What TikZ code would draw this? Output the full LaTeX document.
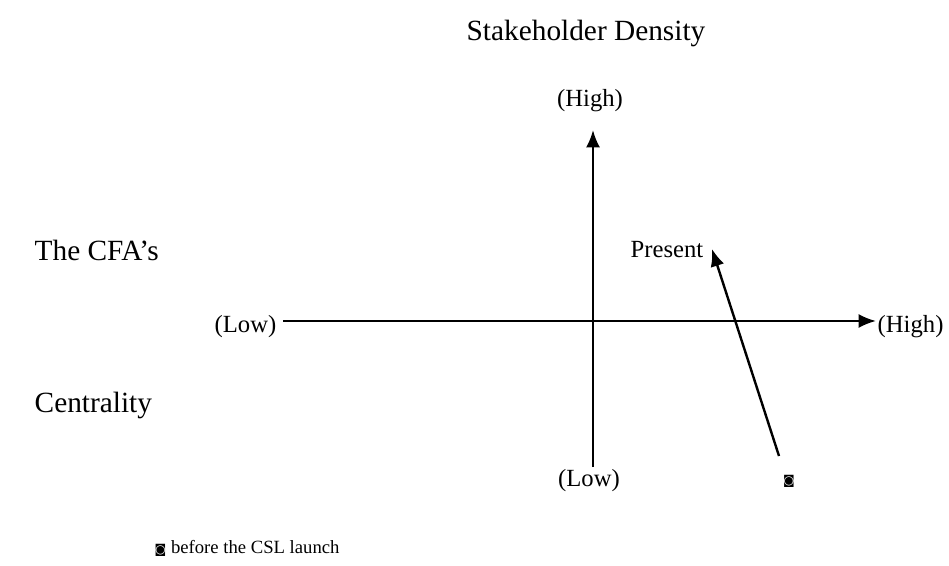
\documentclass[tikz,border=0pt]{standalone}
\usepackage{fontspec}
\setmainfont{Liberation Serif}
\newfontfamily\symfont{DejaVu Sans}
\usetikzlibrary{arrows.meta}
\newcommand{\beforesym}{{\symfont\fontsize{9pt}{9pt}\selectfont ◙}}

\begin{document}
\begin{tikzpicture}[x=0.75pt,y=-0.75pt,
    big/.style={font=\fontsize{22pt}{26pt}\selectfont},
    lbl/.style={font=\fontsize{18.5pt}{22pt}\selectfont},
    axis/.style={line width=1.8pt,-{Latex[length=13pt,width=10.5pt]}}]
  \useasboundingbox (0,0) rectangle (949,566);
  \node[big] (title) at (586,33) {Stakeholder Density};
  \node[big,anchor=west] (cfa) at (30,250) {The CFA’s};
  \node[big,anchor=west] (cent) at (30,405) {Centrality};
  \node[lbl] (yhigh) at (590,101) {(High)};
  \node[lbl] (ylow) at (589,481) {(Low)};
  \node[lbl,anchor=east] (xlow) at (281,327) {(Low)};
  \node[lbl,anchor=west] (xhigh) at (873,327) {(High)};
  \node[lbl] (present) at (667,250) {Present};
  \node (now) at (789,481) {\beforesym};
  \node[anchor=west,font=\fontsize{14pt}{17pt}\selectfont] (legend) at (150,548) {\beforesym\ before the CSL launch};
  \coordinate (ybot) at (593,467);
  \coordinate (ytop) at (593,130);
  \coordinate (xleft) at (283,321);
  \coordinate (xright) at (876,321);
  \coordinate (start) at (779,456);
  \coordinate (tip) at (712,249);
  \path[axis]
    (ybot) edge (ytop)
    (xleft) edge (xright)
    (start) edge (tip);
\end{tikzpicture}
\end{document}
